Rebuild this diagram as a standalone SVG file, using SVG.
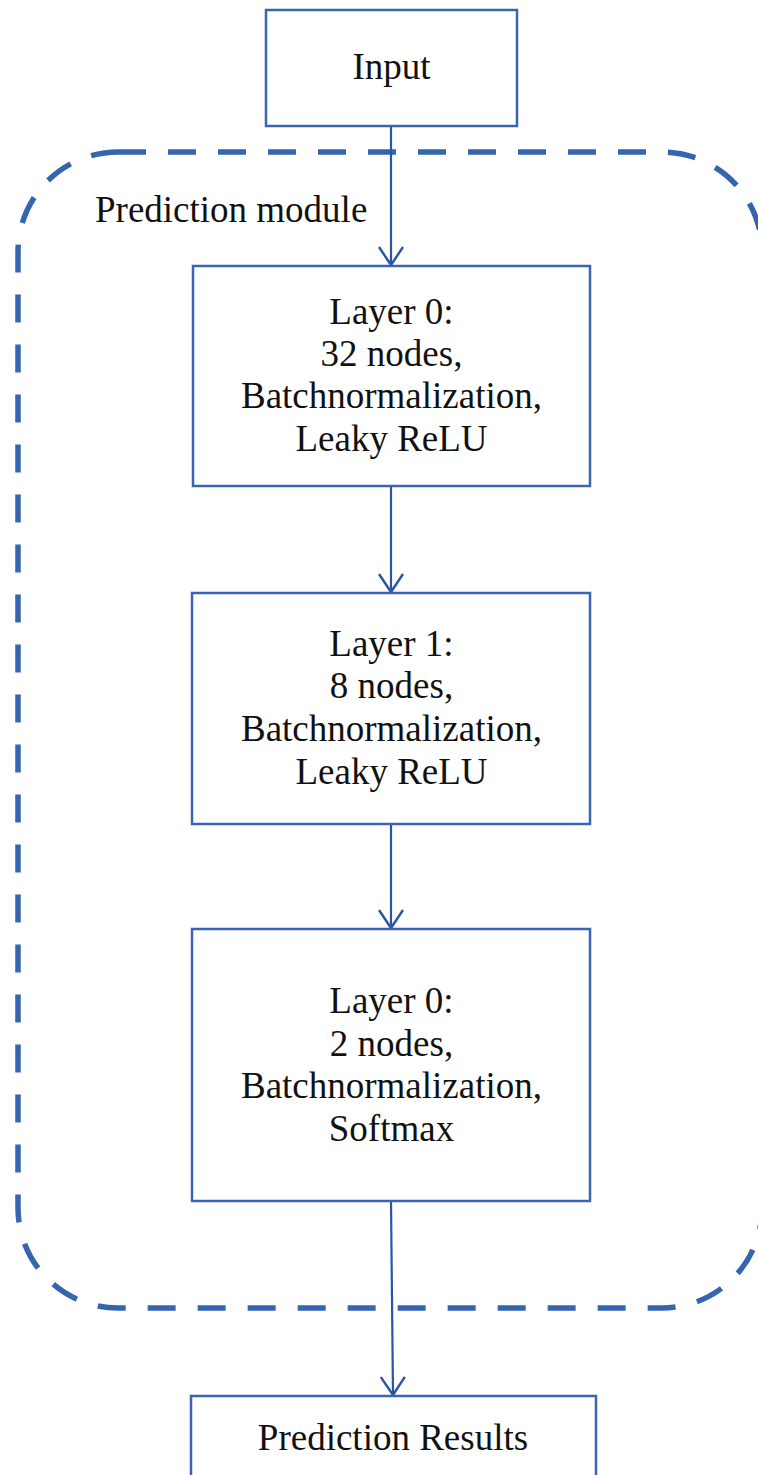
<svg xmlns="http://www.w3.org/2000/svg" width="758" height="1475" viewBox="0 0 758 1475">
<style>
.box{fill:#fff;stroke:#3b65b0;stroke-width:2.5}
.lbl{font-family:"Liberation Serif","Times New Roman",serif;font-size:37px;fill:#111;text-anchor:middle}
.conn{stroke:#2a55a4;stroke-width:2.2;fill:none}
.module{fill:none;stroke:#3565ae;stroke-width:5.5;stroke-dasharray:28 22}
</style>
<defs>
<marker id="vee" markerUnits="userSpaceOnUse" markerWidth="24" markerHeight="30" viewBox="-21 -15 24 30" refX="0" refY="0" orient="auto" overflow="visible">
<polyline points="-18,-12 0,0 -18,12" fill="none" stroke="#2a55a4" stroke-width="2.4"/>
</marker>
</defs>
<g id="prediction-module">
<rect class="module" x="18" y="152" width="744" height="1156" rx="100" ry="100"/>
<text class="lbl" x="95" y="222" style="text-anchor:start">Prediction module</text>
</g>
<g id="connectors">
<path class="conn" d="M391 126 L391 265" marker-end="url(#vee)"/>
<path class="conn" d="M391 486 L391 592" marker-end="url(#vee)"/>
<path class="conn" d="M391 824 L391 928" marker-end="url(#vee)"/>
<path class="conn" d="M391 1201 L393 1395" marker-end="url(#vee)"/>
</g>
<g id="input">
<rect class="box" x="266" y="10" width="251" height="116"/>
<text class="lbl" x="391.5" y="79">Input</text>
</g>
<g id="layer0">
<rect class="box" x="193" y="266" width="397" height="220"/>
<text class="lbl" x="391.5" y="324">Layer 0:</text>
<text class="lbl" x="391.5" y="366">32 nodes,</text>
<text class="lbl" x="391.5" y="408">Batchnormalization,</text>
<text class="lbl" x="391.5" y="451">Leaky ReLU</text>
</g>
<g id="layer1">
<rect class="box" x="192" y="593" width="398" height="231"/>
<text class="lbl" x="391.5" y="656">Layer 1:</text>
<text class="lbl" x="391.5" y="698">8 nodes,</text>
<text class="lbl" x="391.5" y="741">Batchnormalization,</text>
<text class="lbl" x="391.5" y="784">Leaky ReLU</text>
</g>
<g id="layer2">
<rect class="box" x="192" y="929" width="398" height="272"/>
<text class="lbl" x="391.5" y="1013">Layer 0:</text>
<text class="lbl" x="391.5" y="1056">2 nodes,</text>
<text class="lbl" x="391.5" y="1098">Batchnormalization,</text>
<text class="lbl" x="391.5" y="1141">Softmax</text>
</g>
<g id="results">
<rect class="box" x="191" y="1396" width="405" height="110"/>
<text class="lbl" x="393" y="1450">Prediction Results</text>
</g>
</svg>
